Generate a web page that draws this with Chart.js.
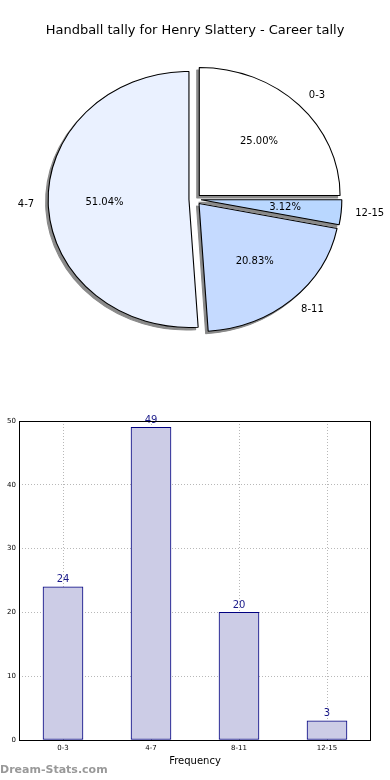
<!DOCTYPE html>
<html>
<head>
<meta charset="utf-8">
<title>Handball tally</title>
<script src="https://cdn.jsdelivr.net/npm/chart.js@4.4.0/dist/chart.umd.min.js"></script>
<style>
  html, body { margin: 0; padding: 0; background: #fff; }
  body { width: 390px; height: 780px; position: relative; overflow: hidden; font-family: "DejaVu Sans", sans-serif; }
  #pie-wrap { position: absolute; left: 0; top: 0; width: 390px; height: 380px; }
  #bar-wrap { position: absolute; left: 0; top: 380px; width: 390px; height: 400px; }
  #watermark { position: absolute; left: 0; top: 763px; font-size: 11px; font-weight: bold; color: #999; }
</style>
</head>
<body>
<div id="pie-wrap"><canvas id="pie-chart" width="390" height="380"></canvas></div>
<div id="bar-wrap"><canvas id="bar-chart" width="390" height="400"></canvas></div>
<div id="watermark">Dream-Stats.com</div>

<script>
// chart data
const categories = ['0-3', '4-7', '8-11', '12-15'];
const frequencies = [24, 49, 20, 3];

// pie runs clockwise from the top
const pieLabels = ['0-3', '12-15', '8-11', '4-7'];
const pieValues = [24, 3, 20, 49];
const piePercents = ['25.00%', '3.12%', '20.83%', '51.04%'];
const pieColors = ['#ffffff', '#b9d7ff', '#c5daff', '#eaf1ff'];

const yTicks = [0, 10, 20, 30, 40, 50];

Chart.defaults.font.family = '"DejaVu Sans", sans-serif';
Chart.defaults.color = '#000';

const PIE_STRETCH = 1.1;   // pie is slightly wider than tall
const EXPLODE = 5.5;
const SHADOW = '#8a8a8a';

function stretchX(ctx, cx) {
    ctx.translate(cx, 0);
    ctx.scale(PIE_STRETCH, 1);
    ctx.translate(-cx, 0);
}

/**
 * Exploded slices, drop shadow and matplotlib style labels
 */
const pieDecor = {
    id: 'pieDecor',
    afterUpdate(chart) {
        chart.getDatasetMeta(0).data.forEach(arc => {
            const mid = (arc.startAngle + arc.endAngle) / 2;
            arc.x += Math.cos(mid) * EXPLODE;
            arc.y += Math.sin(mid) * EXPLODE;
        });
    },
    beforeDatasetsDraw(chart) {
        const ctx = chart.ctx;
        const cx = (chart.chartArea.left + chart.chartArea.right) / 2;
        const arcs = chart.getDatasetMeta(0).data;

        // shadows first, under every slice
        ctx.save();
        ctx.translate(-2.5, 2.5);
        stretchX(ctx, cx);
        arcs.forEach(arc => {
            const ghost = Object.create(arc);
            ghost.options = Object.assign({}, arc.options, { backgroundColor: SHADOW, borderColor: SHADOW });
            ghost.draw(ctx);
        });
        ctx.restore();

        ctx.save();
        stretchX(ctx, cx);
    },
    afterDatasetsDraw(chart) {
        const ctx = chart.ctx;
        ctx.restore();

        const cx = (chart.chartArea.left + chart.chartArea.right) / 2;
        ctx.save();
        ctx.font = '10px "DejaVu Sans"';
        ctx.fillStyle = '#000';
        ctx.textBaseline = 'middle';
        chart.getDatasetMeta(0).data.forEach((arc, i) => {
            const mid = (arc.startAngle + arc.endAngle) / 2;
            const r = arc.outerRadius;

            const lx = cx + (arc.x + Math.cos(mid) * r * 1.1 - cx) * PIE_STRETCH;
            const ly = arc.y + Math.sin(mid) * r * 1.1;
            ctx.textAlign = lx > cx ? 'left' : 'right';
            ctx.fillText(pieLabels[i], lx, ly);

            const px = cx + (arc.x + Math.cos(mid) * r * 0.6 - cx) * PIE_STRETCH;
            const py = arc.y + Math.sin(mid) * r * 0.6;
            ctx.textAlign = 'center';
            ctx.fillText(piePercents[i], px, py);
        });
        ctx.restore();
    }
};

/**
 * Value labels over bars and the full frame round the plot
 */
const barDecor = {
    id: 'barDecor',
    afterDatasetsDraw(chart) {
        const ctx = chart.ctx;
        ctx.save();
        ctx.font = '10px "DejaVu Sans"';
        ctx.fillStyle = '#1a1a8a';
        ctx.textAlign = 'center';
        ctx.textBaseline = 'bottom';
        chart.getDatasetMeta(0).data.forEach((bar, i) => {
            ctx.fillText(String(frequencies[i]), bar.x, bar.y - 2);
        });
        ctx.restore();
    },
    afterDraw(chart) {
        const { left, top, right, bottom } = chart.chartArea;
        const ctx = chart.ctx;
        ctx.save();
        ctx.strokeStyle = '#000';
        ctx.lineWidth = 1;
        ctx.strokeRect(left + 0.5, top + 0.5, right - left - 1, bottom - top);
        ctx.restore();
    }
};

function initPieChart() {
    const ctx = document.getElementById('pie-chart');
    new Chart(ctx, {
        type: 'pie',
        data: {
            labels: pieLabels,
            datasets: [{
                data: pieValues,
                backgroundColor: pieColors,
                borderColor: '#000',
                borderWidth: 1,
                radius: 128,
                clip: false
            }]
        },
        options: {
            responsive: false,
            animation: false,
            events: [],
            layout: { padding: { left: 1, right: 1, top: 0, bottom: 30 } },
            plugins: {
                legend: { display: false },
                tooltip: { enabled: false },
                title: {
                    display: true,
                    text: 'Handball tally for Henry Slattery - Career tally',
                    color: '#000',
                    font: { size: 13, weight: 'normal' },
                    padding: { top: 23, bottom: 10 }
                }
            }
        },
        plugins: [pieDecor]
    });
}

function initBarChart() {
    const ctx = document.getElementById('bar-chart');
    const gridColor = '#b8b8b8';
    new Chart(ctx, {
        type: 'bar',
        data: {
            labels: categories,
            datasets: [{
                data: frequencies,
                backgroundColor: '#ccccE6',
                borderColor: '#000080',
                borderWidth: 1,
                borderSkipped: false,
                barThickness: 40
            }]
        },
        options: {
            responsive: false,
            animation: false,
            events: [],
            layout: { padding: { left: 0, right: 19, top: 41, bottom: 0 } },
            plugins: {
                legend: { display: false },
                tooltip: { enabled: false }
            },
            scales: {
                x: {
                    z: 1,
                    grid: { offset: false, color: gridColor, drawTicks: false },
                    border: { display: false, dash: [1, 2] },
                    ticks: { color: '#000', font: { size: 7 }, padding: 4, maxRotation: 0 },
                    title: {
                        display: true,
                        text: 'Frequency',
                        color: '#000',
                        font: { size: 10 },
                        padding: { top: 0, bottom: 13 }
                    },
                    afterFit: function(scale) { scale.height = 40; }
                },
                y: {
                    z: 1,
                    min: yTicks[0],
                    max: yTicks[yTicks.length - 1],
                    grid: { color: gridColor, drawTicks: false },
                    border: { display: false, dash: [1, 2] },
                    ticks: { stepSize: yTicks[1] - yTicks[0], color: '#000', font: { size: 7 }, padding: 3 },
                    afterFit: function(scale) { scale.width = 19; }
                }
            }
        },
        plugins: [barDecor]
    });
}

initPieChart();
initBarChart();
</script>
</body>
</html>
